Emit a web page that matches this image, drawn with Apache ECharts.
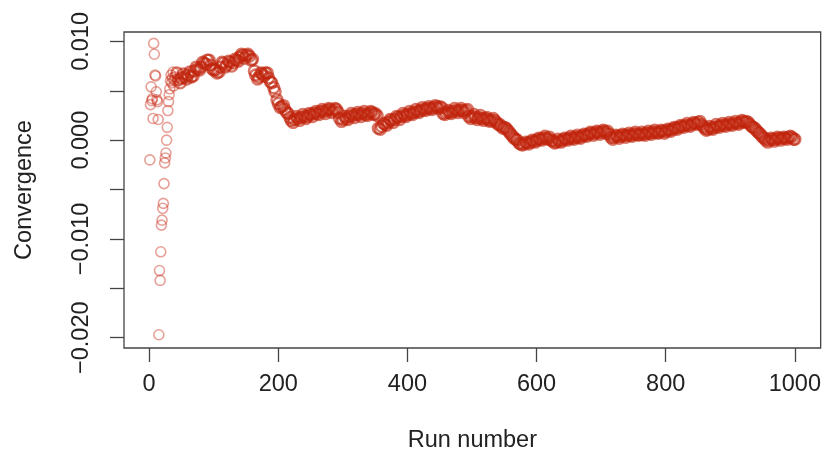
<!DOCTYPE html>
<html>
<head>
<meta charset="utf-8">
<script src="https://cdn.jsdelivr.net/npm/echarts@6/dist/echarts.min.js"></script>
<style>html,body{margin:0;padding:0;background:#fff}#c{width:824px;height:462px}</style>
</head>
<body>
<div id="c"></div>
<script>
// Run numbers (x) and convergence values (y)
const runs = [
  1,2,3,4,5,6,7,8,9,10,11,12,13,14,15,16,17,18,19,20,
  21,22,23,24,25,26,27,28,29,30,31,32,33,34,35,36,37,38,39,40,
  45,50,55,60,65,70,75,80,85,90,95,100,105,110,115,120,125,130,135,140,
  145,150,155,160,165,170,175,180,185,190,195,200,205,210,215,220,225,230,235,240,
  245,250,255,260,265,270,275,280,285,290,295,300,305,310,315,320,325,330,335,340,
  345,350,355,360,365,370,375,380,385,390,395,400,405,410,415,420,425,430,435,440,
  445,450,455,460,465,470,475,480,485,490,495,500,505,510,515,520,525,530,535,540,
  545,550,555,560,565,570,575,580,585,590,595,600,605,610,615,620,625,630,635,640,
  645,650,655,660,665,670,675,680,685,690,695,700,705,710,715,720,725,730,735,740,
  745,750,755,760,765,770,775,780,785,790,795,800,805,810,815,820,825,830,835,840,
  845,850,855,860,865,870,875,880,885,890,895,900,905,910,915,920,925,930,935,940,
  945,950,955,960,965,970,975,980,985,990,995,1000
];
const convergence = [
  -0.0020,0.0036,0.0054,0.0040,0.0042,0.0022,0.0098,0.0087,0.0066,0.0065,
  0.0049,0.0041,0.0039,0.0021,-0.0197,-0.0132,-0.0142,-0.0113,-0.0086,-0.0081,
  -0.0069,-0.0064,-0.0044,-0.0023,-0.0018,-0.0013,0.0000,0.0013,0.0030,0.0039,
  0.0046,0.0052,0.0060,0.0066,0.0058,0.0063,0.0069,0.0055,0.0061,0.0064,
  0.0061,0.0063,0.0064,0.0066,0.0064,0.0070,0.0072,0.0074,0.0078,0.0081,
  0.0076,0.0071,0.0068,0.0074,0.0078,0.0076,0.0079,0.0078,0.0081,0.0084,
  0.0086,0.0086,0.0085,0.0082,0.0066,0.0064,0.0067,0.0068,0.0063,0.0058,
  0.0049,0.0037,0.0034,0.0031,0.0027,0.0020,0.0021,0.0022,0.0023,0.0024,
  0.0024,0.0026,0.0027,0.0027,0.0029,0.0029,0.0030,0.0031,0.0030,0.0031,
  0.0022,0.0021,0.0022,0.0024,0.0025,0.0026,0.0026,0.0027,0.0026,0.0027,
  0.0028,0.0027,0.0012,0.0014,0.0016,0.0018,0.0020,0.0021,0.0023,0.0024,
  0.0025,0.0026,0.0027,0.0028,0.0029,0.0030,0.0031,0.0032,0.0032,0.0033,
  0.0034,0.0034,0.0027,0.0028,0.0028,0.0029,0.0030,0.0030,0.0030,0.0030,
  0.0024,0.0024,0.0023,0.0023,0.0022,0.0022,0.0021,0.0020,0.0020,0.0016,
  0.0014,0.0013,0.0010,0.0006,0.0002,0.0000,-0.0004,-0.0004,-0.0003,-0.0002,
  -0.0001,0.0000,0.0001,0.0002,0.0002,0.0003,-0.0001,-0.0002,-0.0001,0.0000,
  0.0001,0.0002,0.0002,0.0003,0.0003,0.0004,0.0005,0.0006,0.0007,0.0007,
  0.0008,0.0008,0.0009,0.0009,0.0003,0.0003,0.0004,0.0004,0.0005,0.0005,
  0.0005,0.0006,0.0006,0.0006,0.0006,0.0007,0.0007,0.0008,0.0008,0.0008,
  0.0009,0.0009,0.0010,0.0011,0.0012,0.0013,0.0014,0.0015,0.0015,0.0016,
  0.0017,0.0018,0.0016,0.0012,0.0011,0.0012,0.0013,0.0014,0.0015,0.0015,
  0.0016,0.0016,0.0017,0.0017,0.0018,0.0019,0.0019,0.0016,0.0013,0.0010,
  0.0007,0.0003,0.0000,0.0000,0.0001,0.0001,0.0002,0.0002,0.0002,0.0003,
  0.0003,0.0001
];
// Further runs inside the dense band (its upper/lower spread)
const runsBand = [
  43,48,53,58,63,68,73,78,83,88,93,98,103,108,113,118,123,128,133,138,
  143,148,153,158,163,168,173,178,183,188,193,198,203,208,213,218,223,228,233,238,
  243,248,253,258,263,268,273,278,283,288,293,298,303,308,313,318,323,328,333,338,
  343,348,353,358,363,368,373,378,383,388,393,398,403,408,413,418,423,428,433,438,
  443,448,453,458,463,468,473,478,483,488,493,498,503,508,513,518,523,528,533,538,
  543,548,553,558,563,568,573,578,583,588,593,598,603,608,613,618,623,628,633,638,
  643,648,653,658,663,668,673,678,683,688,693,698,703,708,713,718,723,728,733,738,
  743,748,753,758,763,768,773,778,783,788,793,798,803,808,813,818,823,828,833,838,
  843,848,853,858,863,868,873,878,883,888,893,898,903,908,913,918,923,928,933,938,
  943,948,953,958,963,968,973,978,983,988,993,998
];
const convergenceBand = [
  0.0068,0.0058,0.0067,0.0062,0.0069,0.0065,0.0074,0.0071,0.0079,0.0077,
  0.0081,0.0072,0.0071,0.0069,0.0079,0.0074,0.0080,0.0075,0.0082,0.0080,
  0.0087,0.0083,0.0087,0.0081,0.0070,0.0062,0.0068,0.0065,0.0068,0.0059,
  0.0053,0.0041,0.0033,0.0035,0.0028,0.0023,0.0018,0.0024,0.0020,0.0026,
  0.0022,0.0027,0.0024,0.0029,0.0026,0.0031,0.0027,0.0032,0.0028,0.0032,
  0.0028,0.0019,0.0024,0.0021,0.0027,0.0023,0.0028,0.0024,0.0029,0.0025,
  0.0029,0.0026,0.0025,0.0011,0.0017,0.0015,0.0021,0.0018,0.0024,0.0021,
  0.0027,0.0024,0.0029,0.0026,0.0031,0.0028,0.0033,0.0030,0.0034,0.0031,
  0.0035,0.0032,0.0033,0.0026,0.0030,0.0027,0.0032,0.0028,0.0032,0.0028,
  0.0031,0.0022,0.0026,0.0021,0.0025,0.0020,0.0023,0.0019,0.0022,0.0018,
  0.0016,0.0012,0.0012,0.0008,0.0004,0.0001,-0.0003,-0.0005,-0.0002,-0.0004,
  0.0000,-0.0002,0.0002,0.0000,0.0004,0.0001,0.0000,-0.0003,0.0001,-0.0002,
  0.0002,0.0000,0.0004,0.0001,0.0005,0.0002,0.0006,0.0004,0.0008,0.0005,
  0.0009,0.0006,0.0010,0.0007,0.0006,0.0001,0.0005,0.0002,0.0006,0.0003,
  0.0007,0.0004,0.0008,0.0005,0.0008,0.0005,0.0009,0.0006,0.0010,0.0007,
  0.0010,0.0007,0.0011,0.0009,0.0013,0.0011,0.0015,0.0013,0.0017,0.0014,
  0.0018,0.0016,0.0019,0.0014,0.0010,0.0014,0.0011,0.0016,0.0013,0.0017,
  0.0014,0.0018,0.0015,0.0019,0.0016,0.0020,0.0018,0.0018,0.0014,0.0012,
  0.0008,0.0005,0.0002,-0.0002,0.0002,-0.0001,0.0003,0.0000,0.0003,0.0001,
  0.0004,0.0001
];
const xTicks = [0, 200, 400, 600, 800, 1000];
const yTicks = [-0.02, -0.015, -0.01, -0.005, 0, 0.005, 0.01];
const yLabels = [-0.02, -0.01, 0, 0.01];

const allPoints = runs.map((r, i) => [r, convergence[i]])
  .concat(runsBand.map((r, i) => [r, convergenceBand[i]]));
const earlyPoints = allPoints.filter(p => p[0] <= 40);
const bandPoints = allPoints.filter(p => p[0] > 40);
const font = 'Liberation Sans, Arial, sans-serif';
const fs = 23.5;
const chart = echarts.init(document.getElementById('c'), null, {renderer: 'canvas'});
chart.setOption({
  animation: false,
  grid: {left: 124, right: 3, top: 32, bottom: 114, show: true,
         borderColor: '#444', borderWidth: 1.3, backgroundColor: 'transparent'},
  xAxis: {
    type: 'value', min: -38.96, max: 1039.96,
    axisLine: {show: false, onZero: false}, splitLine: {show: false},
    axisTick: {show: true, customValues: xTicks, length: 14, lineStyle: {color: '#444', width: 1.3}},
    axisLabel: {customValues: xTicks, fontSize: fs, margin: 25, color: '#222', fontFamily: font,
      formatter: v => String(v)},
    name: 'Run number', nameLocation: 'middle', nameGap: 81,
    nameTextStyle: {fontSize: fs, color: '#222', fontFamily: font}
  },
  yAxis: {
    type: 'value', min: -0.021042, max: 0.010952,
    axisLine: {show: false, onZero: false}, splitLine: {show: false},
    axisTick: {show: true, customValues: yTicks, length: 14, lineStyle: {color: '#444', width: 1.3}},
    axisLabel: {customValues: yLabels, rotate: 90, fontSize: fs, margin: 30, color: '#222', fontFamily: font,
      formatter: v => (v < 0 ? '\u2212' : '') + Math.abs(v).toFixed(3)},
    name: 'Convergence', nameLocation: 'middle', nameRotate: 90, nameGap: 87,
    nameTextStyle: {fontSize: fs, color: '#222', fontFamily: font}
  },
  series: [{
    type: 'scatter', data: earlyPoints, symbol: 'circle', symbolSize: 10,
    itemStyle: {color: 'rgba(0,0,0,0)', borderColor: 'rgba(200,40,20,0.55)', borderWidth: 1.6}
  }, {
    type: 'scatter', data: bandPoints, symbol: 'circle', symbolSize: 11,
    itemStyle: {color: 'rgba(0,0,0,0)', borderColor: 'rgba(192,36,12,0.78)', borderWidth: 2.4}
  }]
});
</script>
</body>
</html>
